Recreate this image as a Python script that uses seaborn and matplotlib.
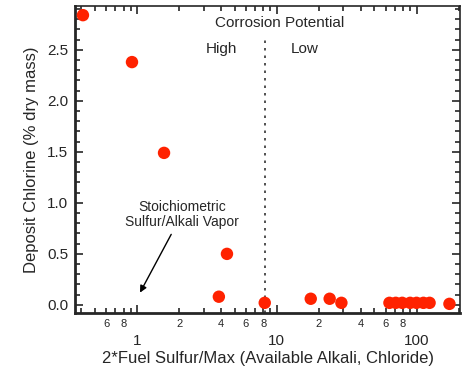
import numpy as np
import pandas as pd
import matplotlib
matplotlib.use('Agg')
import matplotlib.pyplot as plt
from matplotlib.ticker import LogLocator, FuncFormatter, MultipleLocator
import seaborn as sns

# values
ratio = [0.41, 0.92, 1.56, 3.85, 4.4, 8.2, 17.5, 23.9, 29.0,
         64, 71, 79, 90, 100, 112, 124, 172]
chlorine = [2.84, 2.38, 1.49, 0.08, 0.50, 0.02, 0.06, 0.06, 0.02,
            0.02, 0.02, 0.02, 0.02, 0.02, 0.02, 0.02, 0.01]
threshold = 8.2

df = pd.DataFrame({'ratio': ratio, 'chlorine': chlorine})

sns.set_style('ticks')
plt.rcParams['font.family'] = ['Liberation Sans', 'DejaVu Sans']

fig = plt.figure(figsize=(4.69, 3.74), dpi=100)
ax = fig.add_axes([0.160, 0.163, 0.821, 0.821])

sns.scatterplot(data=df, x='ratio', y='chlorine', ax=ax, s=80,
                color='#ff2200', edgecolor='none', zorder=3)

ax.set_xscale('log')
ax.set_xlim(0.36, 205)
ax.set_ylim(-0.08, 2.93)

# dotted High / Low boundary
ax.axvline(threshold, ymin=0.0, ymax=0.89, color='#333333', ls=(0, (1.5, 3)), lw=1.2)

ax.text(10.5, 2.76, 'Corrosion Potential', ha='center', va='center', fontsize=11)
ax.text(4.05, 2.51, 'High', ha='center', va='center', fontsize=11)
ax.text(15.8, 2.51, 'Low', ha='center', va='center', fontsize=11)

ax.annotate('Stoichiometric\nSulfur/Alkali Vapor', xy=(1.05, 0.12), xytext=(2.1, 0.89),
            ha='center', va='center', fontsize=10, linespacing=1.1,
            arrowprops=dict(arrowstyle='-|>', color='black', lw=1,
                            shrinkA=2, shrinkB=0, mutation_scale=10))

# ticks
ax.xaxis.set_major_locator(LogLocator(base=10, numticks=10))
ax.xaxis.set_minor_locator(LogLocator(base=10, subs=np.arange(2, 10), numticks=20))
ax.xaxis.set_major_formatter(FuncFormatter(lambda v, p: f'{v:g}'))

def minor_label(v, p):
    if v < 0.5 or v > 100:
        return ''
    d = v / 10 ** np.floor(np.log10(v) + 1e-9)
    d = int(round(d))
    return str(d) if d in (2, 4, 6, 8) else ''

ax.xaxis.set_minor_formatter(FuncFormatter(minor_label))
ax.yaxis.set_major_locator(MultipleLocator(0.5))
ax.yaxis.set_minor_locator(MultipleLocator(0.1))
ax.yaxis.set_major_formatter(FuncFormatter(lambda v, p: f'{v:.1f}'))

ax.tick_params(which='both', direction='in', top=True, right=True, width=1.2)
ax.tick_params(which='major', length=6)
ax.tick_params(which='minor', length=3.5)
ax.tick_params(axis='x', which='major', pad=15, labelsize=11)
ax.tick_params(axis='x', which='minor', pad=4, labelsize=8)
ax.tick_params(axis='y', which='major', labelsize=11, pad=5)

for s in ax.spines.values():
    s.set_linewidth(1.2)
ax.spines['left'].set_linewidth(2)
ax.spines['bottom'].set_linewidth(2)

ax.set_xlabel('2*Fuel Sulfur/Max (Available Alkali, Chloride)', fontsize=12, labelpad=2)
ax.set_ylabel('Deposit Chlorine (% dry mass)', fontsize=12, labelpad=6)

fig.savefig('out.png', dpi=100)
